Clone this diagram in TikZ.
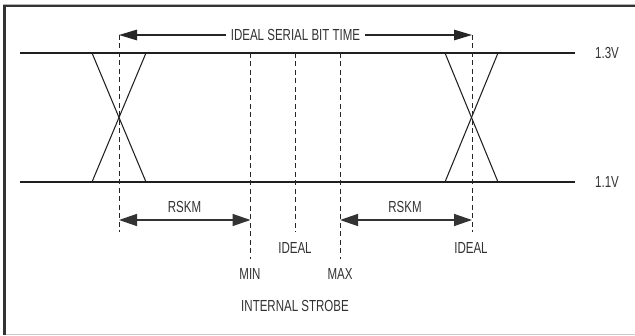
\documentclass[tikz,border=0pt]{standalone}
\usepackage{fontspec}
\setmainfont{Liberation Sans}[FakeStretch=0.72]
\usetikzlibrary{arrows.meta}
\begin{document}
\begin{tikzpicture}[x=1pt,y=-1pt,
  rail/.style={line width=1.2pt, draw=black!88},
  edgeline/.style={line width=1.05pt, draw=black!88},
  guide/.style={line width=0.9pt, dash pattern=on 5pt off 3.5pt, draw=black!85},
  tip/.tip={Triangle[length=18pt,width=10.5pt]},
  bigtip/.tip={Triangle[length=18pt,width=12pt]},
  dim/.style={line width=1.2pt, draw=black!85, -tip},
  dimboth/.style={line width=1.4pt, draw=black!80, bigtip-bigtip},
  lbl/.style={inner sep=0pt, text=black!80, font=\fontsize{16}{19}\selectfont},
]
\useasboundingbox (0,0) rectangle (635,336);
% frame
\draw[line width=1pt, gray!60] (3,4.3) -- (635,4.3);
\draw[line width=2.2pt, black!80] (4.5,6.2) -- (635,6.2);
\draw[line width=2.8pt, black!80] (4.5,5) -- (4.5,335);
\draw[line width=1.2pt, gray!40] (6,334.6) -- (635,334.6);

% coordinates
\coordinate (r1a) at (20,53);  \coordinate (r1b) at (575,53);
\coordinate (r2a) at (20,182); \coordinate (r2b) at (575,182);
\coordinate (Lt) at (119,35);  \coordinate (Lb) at (119,232);
\coordinate (Rt) at (472,35);  \coordinate (Rb) at (472,232);
\coordinate (MINt) at (250.5,53); \coordinate (MINb) at (250.5,259);
\coordinate (IDt) at (295,53);  \coordinate (IDb) at (295,232);
\coordinate (MAXt) at (340,53); \coordinate (MAXb) at (340,259);
\coordinate (x1a) at (92,53);  \coordinate (x1b) at (146,182);
\coordinate (x1c) at (146,53); \coordinate (x1d) at (92,182);
\coordinate (x2a) at (445,53); \coordinate (x2b) at (498,182);
\coordinate (x2c) at (498,53); \coordinate (x2d) at (445,182);
\coordinate (kL1) at (119,220); \coordinate (kL2) at (250.5,220);
\coordinate (kR1) at (340,220); \coordinate (kR2) at (472,220);

% rails
\draw[rail] (r1a) -- (r1b);
\draw[rail] (r2a) -- (r2b);
% eye crossings
\draw[edgeline] (x1a) -- (x1b);
\draw[edgeline] (x1c) -- (x1d);
\draw[edgeline] (x2a) -- (x2b);
\draw[edgeline] (x2c) -- (x2d);
% dashed guides
\draw[guide] (Lt) -- (Lb);
\draw[guide] (Rt) -- (Rb);
\draw[guide] (MINt) -- (MINb);
\draw[guide] (IDt) -- (IDb);
\draw[guide] (MAXt) -- (MAXb);

% labels
\node[lbl, inner xsep=5pt] (title) at (295.5,35) {IDEAL SERIAL BIT TIME};
\draw[dim] (title.west) -- (Lt);
\draw[dim] (title.east) -- (Rt);

\node[lbl] (v13) at (607,53) {1.3V};
\node[lbl] (v11) at (607,182) {1.1V};

\draw[dimboth] (kL1) -- (kL2);
\draw[dimboth] (kR1) -- (kR2);
\node[lbl] (rskmL) at (184.5,207) {RSKM};
\node[lbl] (rskmR) at (405,207) {RSKM};

\node[lbl] (idealM) at (295,247.5) {IDEAL};
\node[lbl] (idealR) at (471,247.5) {IDEAL};
\node[lbl] (min) at (250,274) {MIN};
\node[lbl] (max) at (340,274) {MAX};
\node[lbl] (strobe) at (295,306) {INTERNAL STROBE};
\end{tikzpicture}
\end{document}
